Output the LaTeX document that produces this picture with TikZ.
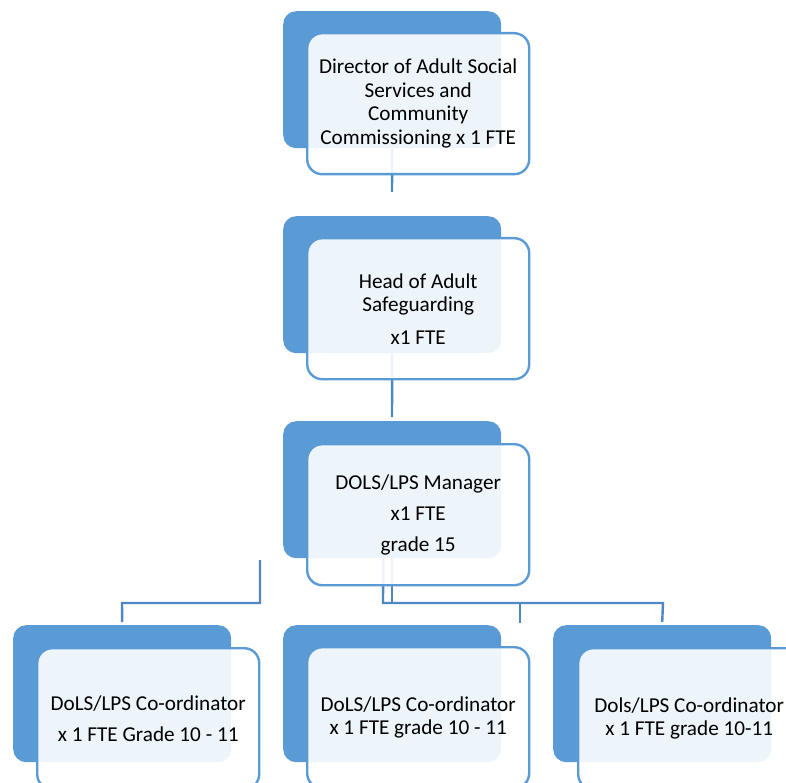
\documentclass[tikz,border=0pt]{standalone}
\usepackage{fontspec}
\setmainfont{Carlito}
\usetikzlibrary{calc}
\definecolor{blueA}{HTML}{5B9BD5}
\definecolor{blueB}{HTML}{5B9BD5}
\definecolor{connC}{HTML}{4E88C4}
\begin{document}
\begin{tikzpicture}[x=1pt,y=-1pt,
  back/.style={fill=blueA, rounded corners=13pt, minimum width=218pt, minimum height=137pt, inner sep=0pt, anchor=north west},
  front/.style={fill=white, fill opacity=0.9, text opacity=1, draw=blueB, draw opacity=1, line width=2.4pt, rounded corners=15pt, minimum width=222pt, minimum height=141pt, inner sep=0pt, anchor=north west, align=center, font=\fontsize{21.2}{23.5}\selectfont},
  conn/.style={draw=connC, line width=2.4pt, line join=miter}]
\useasboundingbox (0,0) rectangle (786,783);
\clip (0,0) rectangle (786,783);
% back boxes
\node[back] (b1) at (283,11) {};
\node[back] (b2) at (283,216) {};
\node[back] (b3) at (283,421) {};
\node[back] (b4) at (13,625) {};
\node[back] (b5) at (283,625) {};
\node[back] (b6) at (553,625) {};
% connectors
\coordinate (c1) at (392,192);
\coordinate (c2) at (392,417);
\coordinate (j1) at (383,603);
\coordinate (j2) at (663,603);
\coordinate (j3) at (520,623);
\coordinate (s1) at (260,560);
\coordinate (s2) at (122,603);
\draw[conn] (b1.south) -- (c1);
\draw[conn] (b2.south) -- (c2);
\draw[conn] (b3.south) -- (b3.south |- j1);
\draw[conn] ($(b3.south)+(-9,0)$) -- (j1) -- (j2) -- ($(b6.north)+(0,-3)$);
\draw[conn] (j3) -- (j3 |- j1);
\draw[conn] (s1) -- (s1 |- s2) -- (s2) -- ($(b4.north)+(0,-3)$);
% front boxes
\node[front] (f1) at (306,32) {Director of Adult Social\\Services and\\Community\\Commissioning x 1 FTE};
\node[front] (f2) at (306,237) {Head of Adult\\Safeguarding\\[9pt]x1 FTE};
\node[front] (f3) at (306,443) {DOLS/LPS Manager\\[8pt]x1 FTE\\[7pt]grade 15};
\node[front] (f4) at (36,647) {DoLS/LPS Co-ordinator\\[8pt]x 1 FTE Grade 10 - 11};
\node[front] (f5) at (306,646) {DoLS/LPS Co-ordinator\\x 1 FTE grade 10 - 11};
\node[front] (f6) at (577,647) {Dols/LPS Co-ordinator\\x 1 FTE grade 10-11};
\end{tikzpicture}
\end{document}
